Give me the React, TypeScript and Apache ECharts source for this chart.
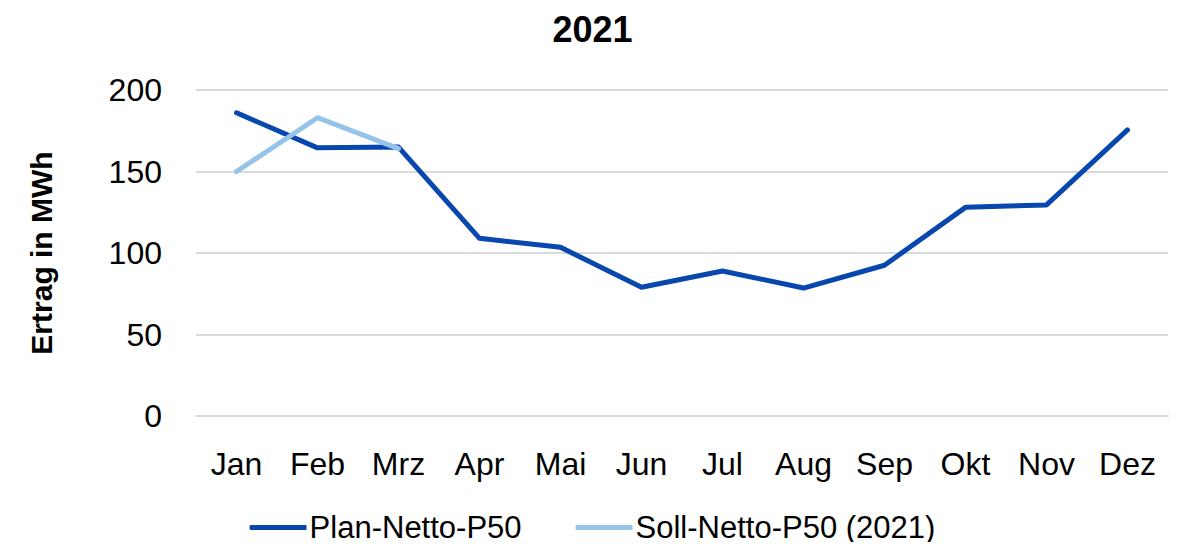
import React, { useEffect, useRef } from "react";
import * as echarts from "echarts";

const months = ["Jan", "Feb", "Mrz", "Apr", "Mai", "Jun", "Jul", "Aug", "Sep", "Okt", "Nov", "Dez"];
const planNetto = [186, 164.5, 165, 109, 103.5, 79, 89, 78.5, 92.5, 128, 129.5, 175.5];
const sollNetto = [150, 183, 164, null, null, null, null, null, null, null, null, null];
const yTicks = [0, 50, 100, 150, 200];

const FONT = '"Liberation Sans", Arial, sans-serif';

export default function App() {
  const ref = useRef<HTMLDivElement>(null);
  useEffect(() => {
    const chart = echarts.init(ref.current!, null, { renderer: "svg" });
    chart.setOption({
      animation: false,
      title: {
        text: "2021",
        left: "center",
        top: 6,
        textStyle: { fontFamily: FONT, fontSize: 36, fontWeight: "bold", color: "#000" },
      },
      grid: { left: 196, right: 17, top: 90, bottom: 134 },
      legend: {
        bottom: 2,
        left: "center",
        itemWidth: 57,
        itemHeight: 5,
        itemGap: 54,
        icon: "roundRect",
        textStyle: { fontFamily: FONT, fontSize: 31, color: "#000", padding: [0, 0, 0, -2] },
        data: ["Plan-Netto-P50", "Soll-Netto-P50 (2021)"],
      },
      xAxis: {
        type: "category",
        data: months,
        boundaryGap: true,
        axisLine: { lineStyle: { color: "#d9d9d9", width: 2 } },
        axisTick: { show: false },
        axisLabel: { fontFamily: FONT, fontSize: 32, color: "#000", margin: 32, interval: 0 },
      },
      yAxis: {
        type: "value",
        min: yTicks[0],
        max: yTicks[yTicks.length - 1],
        interval: 50,
        name: "Ertrag in MWh",
        nameLocation: "middle",
        nameGap: 140,
        nameRotate: 90,
        nameTextStyle: { fontFamily: FONT, fontSize: 30, fontWeight: "bold", color: "#000" },
        axisLine: { show: false },
        axisTick: { show: false },
        splitLine: { lineStyle: { color: "#d9d9d9", width: 2 } },
        axisLabel: { fontFamily: FONT, fontSize: 32, color: "#000", margin: 34 },
      },
      series: [
        {
          name: "Plan-Netto-P50",
          type: "line",
          data: planNetto,
          symbol: "none",
          lineStyle: { color: "#0747ae", width: 5, cap: "round", join: "round" },
          itemStyle: { color: "#0747ae" },
          z: 2,
        },
        {
          name: "Soll-Netto-P50 (2021)",
          type: "line",
          data: sollNetto,
          symbol: "none",
          lineStyle: { color: "#95c3ea", width: 5, cap: "round", join: "round" },
          itemStyle: { color: "#95c3ea" },
          z: 3,
        },
      ],
    });
    return () => chart.dispose();
  }, []);
  return <div ref={ref} style={{ width: 1185, height: 550, margin: -8 }} />;
}
